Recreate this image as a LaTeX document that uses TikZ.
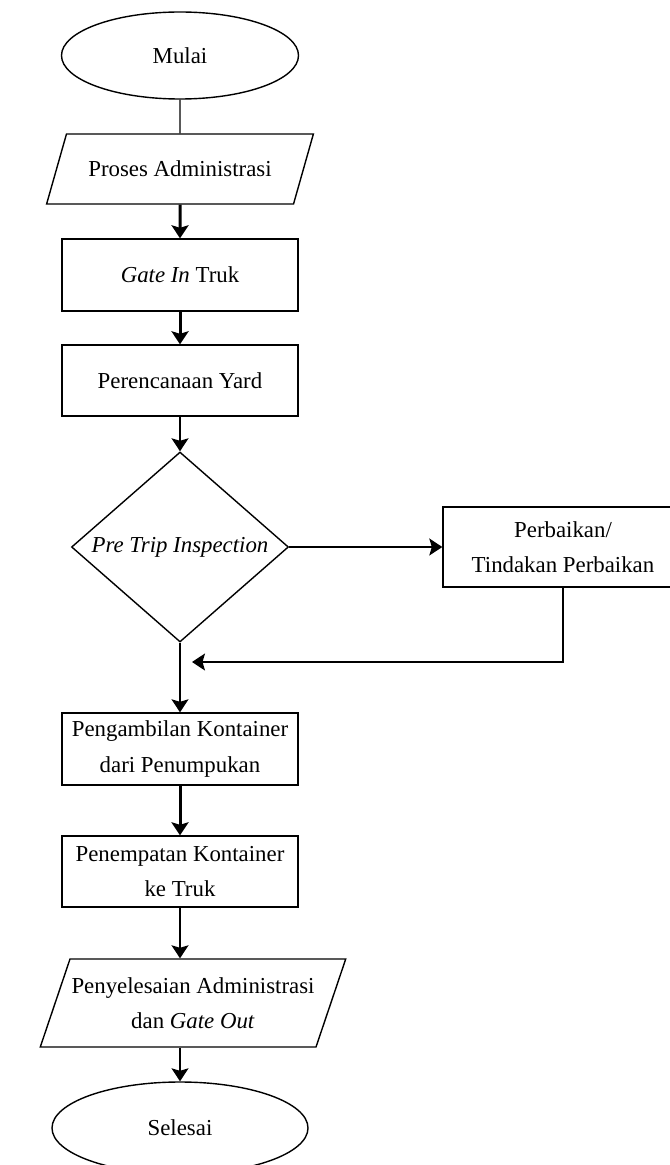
\documentclass[tikz,border=0pt]{standalone}
\usepackage{fontspec}
\setmainfont{Liberation Serif}
\usetikzlibrary{arrows.meta,shapes.geometric}

\begin{document}
\begin{tikzpicture}[line width=0.28mm,
  every node/.style={font=\fontsize{13}{20}\selectfont, align=center},
  terminal/.style={draw, ellipse, inner sep=0pt},
  procbox/.style={draw, rectangle, minimum width=4.72cm, minimum height=1.44cm, inner sep=2pt},
  iobox/.style={draw, trapezium, trapezium stretches=true, inner xsep=0pt},
  decision/.style={draw, diamond, aspect=1.14, inner sep=0pt},
  flow/.style={-{Stealth[length=2.6mm,width=3.4mm,inset=0.5mm]}},
  heavy/.style={flow, line width=0.6mm}]
  \useasboundingbox (0,0) rectangle (13.38,-23.30);
  % main column
  \node[terminal, minimum width=4.74cm, minimum height=1.74cm] (mulai) at (3.6,-1.11) {Mulai};
  \node[iobox, trapezium left angle=60, trapezium right angle=120,
        minimum width=5.34cm, minimum height=1.40cm] (admin) at (3.6,-3.38) {Proses Administrasi};
  \node[procbox] (gatein) at (3.6,-5.50) {\textit{Gate In} Truk};
  \node[procbox, minimum height=1.42cm] (yard) at (3.6,-7.61) {Perencanaan Yard};
  \node[decision, minimum width=4.34cm, minimum height=3.80cm] (pti) at (3.6,-10.94) {\textit{Pre Trip Inspection}};
  \node[procbox, minimum width=4.80cm, minimum height=1.60cm] (perbaikan) at (11.26,-10.94) {Perbaikan/\\Tindakan Perbaikan};
  \node[procbox] (ambil) at (3.6,-14.98) {Pengambilan Kontainer\\dari Penumpukan};
  \node[procbox, minimum height=1.42cm] (tempat) at (3.6,-17.43) {Penempatan Kontainer\\ke Truk};
  \node[iobox, trapezium left angle=65, trapezium right angle=115,
        minimum width=6.12cm, minimum height=1.76cm] (gateout) at (3.86,-20.06) {Penyelesaian Administrasi\\dan \textit{Gate Out}};
  \node[terminal, minimum width=5.12cm, minimum height=1.84cm] (selesai) at (3.6,-22.56) {Selesai};
  \coordinate (balik) at (3.84,-13.24); % return arrow stops short of the column

  % connectors
  \draw (mulai) -- (admin);
  \draw[heavy] (admin) -- (gatein);
  \draw[heavy] (gatein) -- (yard);
  \draw[flow] (yard) -- (pti);
  \draw[flow] (pti) -- (perbaikan);
  \draw[flow] (perbaikan.south) |- (balik);
  \draw[flow] (pti) -- (ambil);
  \draw[heavy] (ambil) -- (tempat);
  \draw[flow] (tempat.south) -- (tempat.south |- gateout.north);
  \draw[flow] (selesai.north |- gateout.south) -- (selesai);
\end{tikzpicture}
\end{document}
